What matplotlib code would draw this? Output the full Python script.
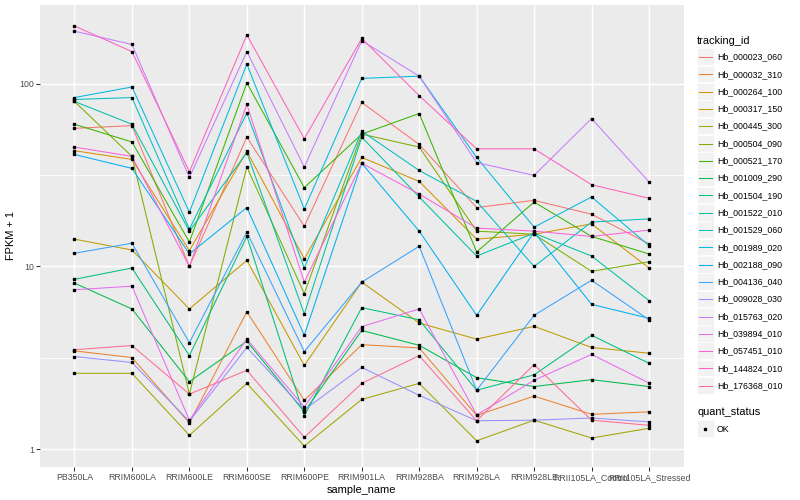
import numpy as np
import matplotlib
matplotlib.use("Agg")
import matplotlib.pyplot as plt
from matplotlib.ticker import FixedLocator, NullFormatter
from matplotlib.patches import Rectangle

plt.rcParams['font.family'] = ['Liberation Sans', 'DejaVu Sans']

# samples on the x axis
samples = ["PB350LA", "RRIM600LA", "RRIM600LE", "RRIM600SE", "RRIM600PE", "RRIM901LA",
           "RRIM928BA", "RRIM928LA", "RRIM928LE", "RRII105LA_Control", "RRII105LA_Stressed"]

# FPKM + 1 per gene
Hb_000023_060 = [57, 59, 10, 51, 16.6, 79, 46.5, 21, 23, 19.3, 13.3]
Hb_000032_310 = [3.45, 3.17, 1.39, 5.65, 1.85, 3.73, 3.58, 1.53, 1.95, 1.55, 1.6]
Hb_000264_100 = [43, 38.5, 12.2, 42.7, 11, 39.5, 29.2, 14.1, 15, 17.1, 9.8]
Hb_000317_150 = [14.1, 12.3, 5.85, 10.8, 2.87, 8.2, 4.9, 4.0, 4.7, 3.6, 3.35]
Hb_000445_300 = [2.6, 2.6, 1.19, 2.29, 1.04, 1.87, 2.29, 1.11, 1.44, 1.15, 1.3]
Hb_000504_090 = [80, 40, 2.0, 35, 7.1, 53, 45, 15.6, 15, 9.4, 10.6]
Hb_000521_170 = [60, 48, 13.6, 101, 27, 53, 68.7, 12, 22.5, 14.6, 11.7]
Hb_001009_290 = [8.1, 5.85, 2.34, 3.9, 1.6, 4.46, 3.7, 2.46, 2.2, 2.4, 2.2]
Hb_001504_190 = [8.5, 9.8, 3.25, 14.6, 1.52, 5.95, 5.1, 2.1, 2.55, 4.2, 2.95]
Hb_001522_010 = [80, 60, 15.6, 42, 5.5, 51, 24, 11.4, 15.2, 11.4, 6.5]
Hb_001529_060 = [82, 84, 16, 69, 9.8, 55, 33.5, 22.7, 10, 17.5, 18.2]
Hb_001989_020 = [84, 96, 19.8, 128, 20.6, 107, 110, 39.5, 16.4, 24, 13.0]
Hb_002188_090 = [41, 34.4, 11.7, 21, 4.2, 36.7, 15.6, 5.4, 15.4, 6.2, 5.2]
Hb_004136_040 = [11.8, 13.4, 3.83, 15.4, 3.42, 8.2, 12.9, 2.1, 5.4, 8.4, 5.1]
Hb_009028_030 = [3.21, 2.98, 1.42, 3.6, 1.64, 2.8, 1.97, 1.43, 1.44, 1.48, 1.41]
Hb_015763_020 = [194, 164, 30.7, 150, 35, 172, 110, 37, 31.5, 64.5, 29]
Hb_039894_010 = [7.45, 7.8, 1.44, 4.0, 1.7, 4.68, 5.85, 1.54, 2.38, 3.3, 2.3]
Hb_057451_010 = [45, 40, 10, 77, 8.2, 36.7, 24.9, 16.2, 15.6, 14.6, 15.8]
Hb_144824_010 = [207, 150, 33, 185, 50, 177, 86, 44, 44, 28, 23.6]
Hb_176368_010 = [3.5, 3.69, 2.0, 2.7, 1.16, 2.29, 3.25, 1.43, 2.9, 1.44, 1.35]

tracking_ids = ["Hb_000023_060", "Hb_000032_310", "Hb_000264_100", "Hb_000317_150",
                "Hb_000445_300", "Hb_000504_090", "Hb_000521_170", "Hb_001009_290",
                "Hb_001504_190", "Hb_001522_010", "Hb_001529_060", "Hb_001989_020",
                "Hb_002188_090", "Hb_004136_040", "Hb_009028_030", "Hb_015763_020",
                "Hb_039894_010", "Hb_057451_010", "Hb_144824_010", "Hb_176368_010"]
series = [Hb_000023_060, Hb_000032_310, Hb_000264_100, Hb_000317_150, Hb_000445_300,
          Hb_000504_090, Hb_000521_170, Hb_001009_290, Hb_001504_190, Hb_001522_010,
          Hb_001529_060, Hb_001989_020, Hb_002188_090, Hb_004136_040, Hb_009028_030,
          Hb_015763_020, Hb_039894_010, Hb_057451_010, Hb_144824_010, Hb_176368_010]

# ggplot default hue palette for 20 levels
colors = ["#F8766D", "#EA8331", "#D89000", "#C09B00", "#A3A500", "#7CAE00", "#39B600",
          "#00BB4E", "#00BF7D", "#00C1A3", "#00BFC4", "#00BAE0", "#00B0F6", "#35A2FF",
          "#9590FF", "#C77CFF", "#E76BF3", "#FA62DB", "#FF62BC", "#FF6C91"]

fig = plt.figure(figsize=(8, 5), dpi=100)
ax = fig.add_axes([40 / 800, 1 - 467 / 500, (683.5 - 40) / 800, (467 - 5) / 500])
ax.set_facecolor("#EBEBEB")
for s in ax.spines.values():
    s.set_visible(False)

x = np.arange(1, len(samples) + 1)
for vals, c in zip(series, colors):
    ax.plot(x, vals, color=c, lw=0.75, zorder=3)
for vals in series:
    ax.plot(x, vals, ls="none", marker="s", ms=1.9, color="black", zorder=4)

ax.set_yscale("log")
allv = np.log10(np.concatenate([np.array(v, dtype=float) for v in series]))
lo, hi = allv.min(), allv.max()
pad = (hi - lo) * 0.05
ax.set_ylim(10 ** (lo - pad), 10 ** (hi + pad))
ax.set_xlim(0.4, len(samples) + 0.6)

ax.yaxis.set_major_locator(FixedLocator([1, 10, 100]))
ax.yaxis.set_major_formatter(matplotlib.ticker.FixedFormatter(["1", "10", "100"]))
ax.yaxis.set_minor_locator(FixedLocator([10 ** 0.5, 10 ** 1.5]))
ax.yaxis.set_minor_formatter(NullFormatter())
ax.set_xticks(x)
ax.set_xticklabels(samples)

ax.grid(True, which="major", color="white", lw=1.05, zorder=1)
ax.grid(True, which="minor", axis="y", color="white", lw=0.55, zorder=1)
ax.set_axisbelow(True)

ax.tick_params(which="major", length=2.7, width=0.75, color="#333333",
               labelsize=6.3, labelcolor="#4D4D4D", pad=1.6)
ax.tick_params(which="minor", length=0)

ax.set_xlabel("sample_name", fontsize=7.9, labelpad=2)
ax.set_ylabel("FPKM + 1", fontsize=7.9, labelpad=2)

# legend drawn in figure pixel coordinates
lg = fig.add_axes([0, 0, 1, 1], zorder=5)
lg.set_xlim(0, 800)
lg.set_ylim(500, 0)
lg.axis("off")
lg.text(697, 41, "tracking_id", fontsize=7.9, va="center", ha="left")
step = 17.3
for i, (name, c) in enumerate(zip(tracking_ids, colors)):
    yc = 57 + i * step
    lg.add_patch(Rectangle((697, yc - step / 2), 16.5, step - 0.6, facecolor="#F2F2F2",
                           edgecolor="white", lw=0.5))
    lg.plot([699, 711.5], [yc, yc], color=c, lw=0.75)
    lg.text(717, yc, name, fontsize=6.3, va="center", ha="left")

lg.text(697, 412, "quant_status", fontsize=7.9, va="center", ha="left")
lg.add_patch(Rectangle((697, 429 - step / 2), 16.5, step - 0.6, facecolor="#F2F2F2",
                       edgecolor="white", lw=0.5))
lg.plot([705], [429], marker="s", ms=1.9, color="black")
lg.text(717, 429, "OK", fontsize=6.3, va="center", ha="left")

fig.savefig("out.png", dpi=100)
